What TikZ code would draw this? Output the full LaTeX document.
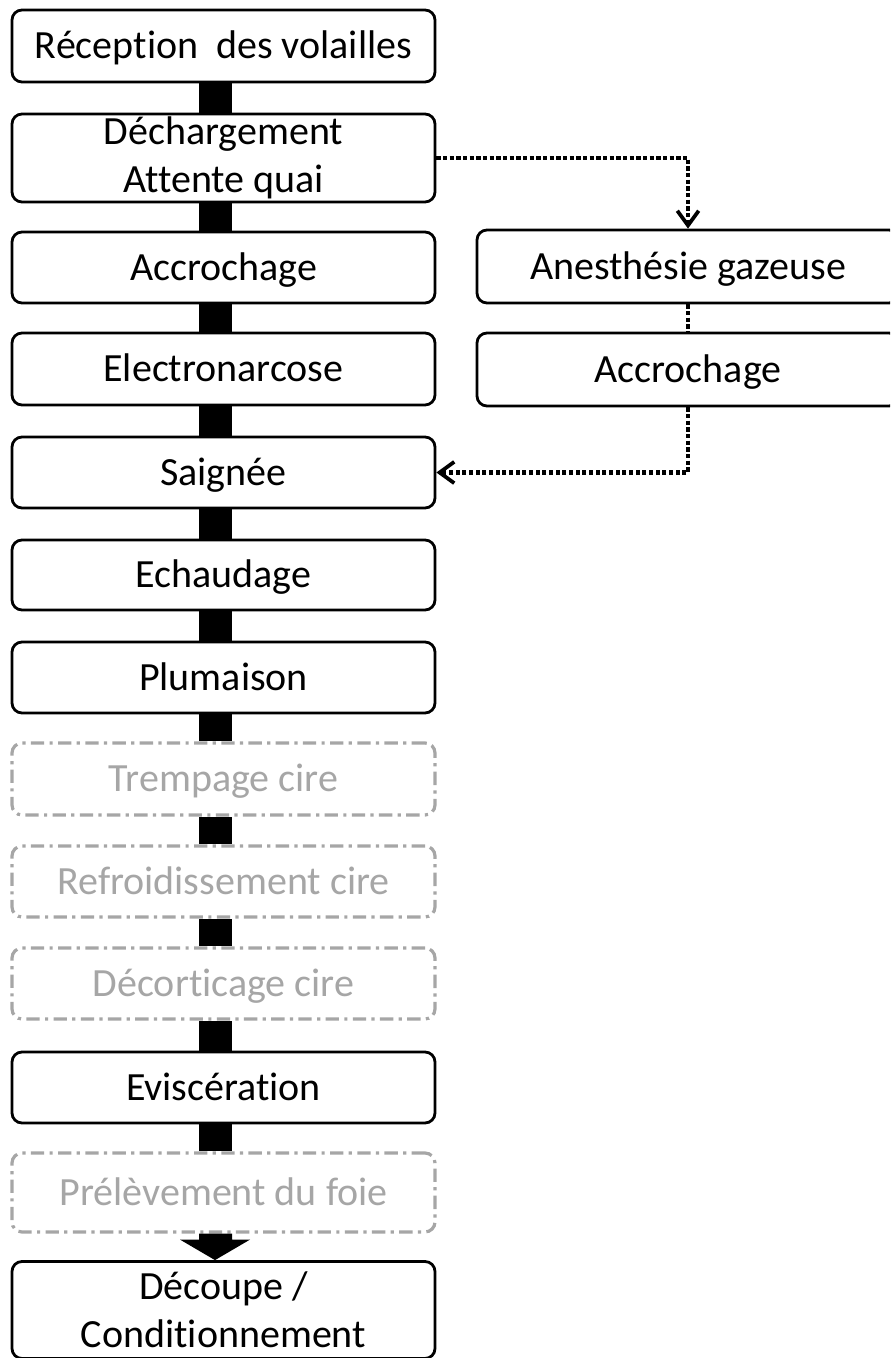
\documentclass[tikz,border=0pt]{standalone}
\usepackage{fontspec}
\setmainfont{Carlito}[Ligatures=NoCommon]
\usetikzlibrary{arrows.meta,calc}
\definecolor{grayline}{HTML}{A6A6A6}
\begin{document}
\begin{tikzpicture}[x=0.75pt,y=-0.75pt,
 basebox/.style={draw=black, line width=2.1pt, rounded corners=7.5pt, fill=white,
   minimum width=317.25pt, inner sep=0pt, align=center,
   font=\fontsize{30}{36}\selectfont, text=black},
 stepbox/.style={basebox, text height=19.3pt, text depth=0pt},
 twobox/.style={basebox},
 optbox/.style={stepbox, draw=grayline, text=grayline, line width=2.4pt,
   dash pattern=on 10pt off 4pt on 2.4pt off 4pt},
 sidebox/.style={stepbox, minimum width=316.5pt, minimum height=54.75pt},
 bar/.style={fill=black},
 dotline/.style={line width=3.2pt, dash pattern=on 3.2pt off 1.8pt},
 dotarrow/.style={dotline, -{Straight Barb[length=11pt,width=16pt,line width=2.8pt]}},
]
\useasboundingbox (0,0) rectangle (890,1358);
\clip (0,0) rectangle (890,1358);

% main column
\node[stepbox, minimum height=54pt]    (b1)  at (223.5,46)     {Réception\hspace{0.45em}des volailles};
\node[twobox,  minimum height=66pt]    (b2)  at (223.5,158)    {Déchargement\\Attente quai};
\node[stepbox, minimum height=53.25pt] (b3)  at (223.5,267.5)  {Accrochage};
\node[stepbox, minimum height=54pt]    (b4)  at (223.5,369)    {Electronarcose};
\node[stepbox, minimum height=53.25pt] (b5)  at (223.5,472.5)  {Saignée};
\node[stepbox, minimum height=52.5pt]  (b6)  at (223.5,575)    {Echaudage};
\node[stepbox, minimum height=53.25pt] (b7)  at (223.5,677.5)  {Plumaison};
\node[optbox,  minimum height=54pt]    (b8)  at (223.5,779)    {Trempage cire};
\node[optbox,  minimum height=53.25pt] (b9)  at (223.5,881.5)  {Refroidissement cire};
\node[optbox,  minimum height=53.25pt] (b10) at (223.5,983.5)  {Décorticage cire};
\node[stepbox, minimum height=53.25pt] (b11) at (223.5,1087.5) {Eviscération};
\node[optbox,  minimum height=59.25pt] (b12) at (223.5,1192.5) {Prélèvement du foie};
\node[twobox,  minimum height=72.75pt] (b13) at (223.5,1310) {Découpe /\\Conditionnement};

% side column
\node[sidebox] (r1) at (688,266.5) {Anesthésie gazeuse};
\node[sidebox] (r2) at (688,369.5) {Accrochage};

% black bars between steps
\foreach \a/\b in {b1/b2,b2/b3,b3/b4,b4/b5,b5/b6,b6/b7,b7/b8,b8/b9,b9/b10,b10/b11,b11/b12}{
  \fill[bar] ($(\a.south)+(-24.5,0)$) rectangle ($(\b.north)+(8.5,0)$);
}
% block arrow to last step
\fill[bar] ($(b12.south)+(-24.5,0)$) -- ($(b12.south)+(8.5,0)$) -- ($(b12.south)+(8.5,6)$)
  -- ($(b12.south)+(26.5,6)$) -- ($(b13.north)+(-8.5,0)$) -- ($(b12.south)+(-43.5,6)$)
  -- ($(b12.south)+(-24.5,6)$) -- cycle;

% dotted alternative path
\draw[dotarrow] (b2.east) -| (r1.north);
\draw[dotline]  (r1.south) -- (r2.north);
\draw[dotarrow] (r2.south) |- (b5.east);
\end{tikzpicture}
\end{document}
